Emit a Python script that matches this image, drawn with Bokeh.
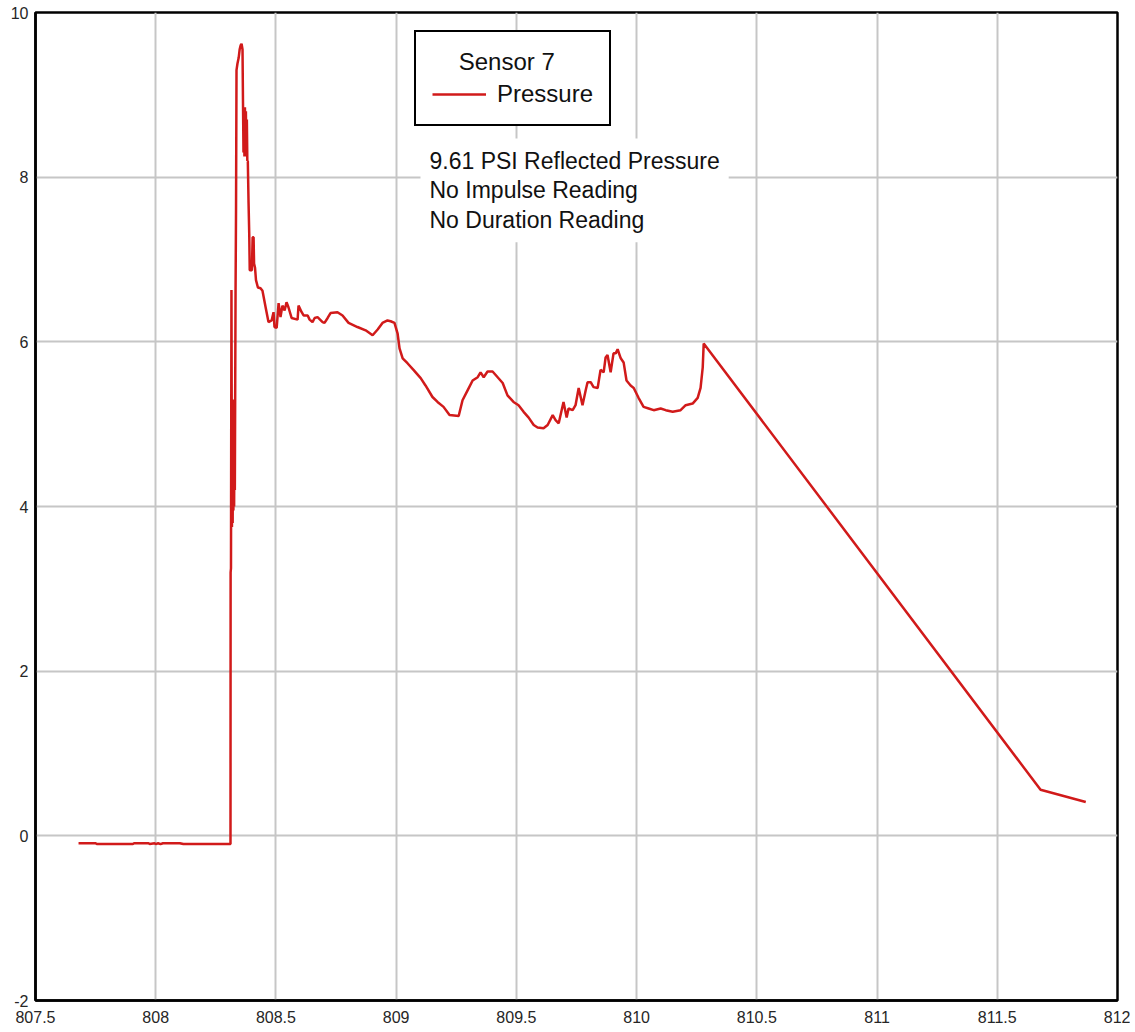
from bokeh.plotting import figure
from bokeh.models import Range1d, FixedTicker, Legend, LegendItem, Label
from bokeh.embed import file_html
from bokeh.resources import INLINE

# ---- data ----
time_s = [
    807.679, 807.750, 807.755, 807.905, 807.910, 807.970, 807.975, 807.995,
    808.000, 808.010, 808.020, 808.030, 808.060, 808.100, 808.115, 808.311,
    808.3115, 808.313, 808.315, 808.317, 808.3185, 808.320, 808.3215, 808.323,
    808.3245, 808.326, 808.3275, 808.329, 808.332, 808.334, 808.336, 808.340,
    808.345, 808.349, 808.353, 808.357, 808.361, 808.363, 808.365, 808.367,
    808.369, 808.371, 808.373, 808.375, 808.377, 808.379, 808.381, 808.383,
    808.386, 808.389, 808.391, 808.400, 808.403, 808.407, 808.409, 808.413,
    808.417, 808.425, 808.436, 808.444, 808.457, 808.469, 808.482, 808.490,
    808.494, 808.503, 808.511, 808.519, 808.527, 808.536, 808.544, 808.552,
    808.565, 808.590, 808.594, 808.607, 808.615, 808.632, 808.640, 808.652,
    808.661, 808.673, 808.694, 808.702, 808.715, 808.727, 808.756, 808.777,
    808.802, 808.839, 808.873, 808.902, 808.923, 808.943, 808.964, 808.977,
    808.993, 809.006, 809.014, 809.027, 809.047, 809.072, 809.102, 809.122,
    809.151, 809.172, 809.197, 809.222, 809.260, 809.276, 809.297, 809.318,
    809.339, 809.351, 809.364, 809.380, 809.401, 809.422, 809.443, 809.463,
    809.488, 809.509, 809.530, 809.551, 809.572, 809.588, 809.613, 809.630,
    809.651, 809.663, 809.676, 809.696, 809.709, 809.717, 809.734, 809.746,
    809.759, 809.775, 809.788, 809.796, 809.809, 809.821, 809.838, 809.850,
    809.863, 809.871, 809.879, 809.892, 809.904, 809.913, 809.921, 809.934,
    809.946, 809.958, 809.975, 809.988, 810.008, 810.029, 810.050, 810.071,
    810.100, 810.121, 810.150, 810.183, 810.204, 810.233, 810.254, 810.266,
    810.275, 810.279, 811.680, 811.868,
]
pressure_psi = [
    -0.09, -0.09, -0.10, -0.10, -0.09, -0.09, -0.10, -0.09,
    -0.10, -0.09, -0.10, -0.09, -0.09, -0.09, -0.10, -0.10,
    3.20, 3.25, 6.63, 3.75, 5.25, 3.80, 5.10, 3.95,
    5.30, 4.00, 5.00, 4.20, 6.60, 7.60, 9.30, 9.38,
    9.45, 9.55, 9.60, 9.62, 9.55, 8.90, 8.30, 8.85,
    8.25, 8.85, 8.30, 8.80, 8.25, 8.70, 8.20, 8.20,
    7.70, 7.30, 6.87, 6.87, 7.27, 7.27, 6.95, 6.90,
    6.75, 6.66, 6.65, 6.62, 6.42, 6.24, 6.26, 6.36,
    6.18, 6.17, 6.47, 6.30, 6.44, 6.38, 6.48, 6.42,
    6.29, 6.27, 6.44, 6.36, 6.32, 6.32, 6.27, 6.24,
    6.29, 6.30, 6.24, 6.23, 6.29, 6.35, 6.36, 6.32,
    6.23, 6.18, 6.14, 6.08, 6.15, 6.23, 6.26, 6.25,
    6.23, 6.10, 5.92, 5.80, 5.74, 5.66, 5.56, 5.47,
    5.33, 5.27, 5.21, 5.11, 5.10, 5.29, 5.41, 5.53,
    5.57, 5.63, 5.57, 5.64, 5.64, 5.57, 5.50, 5.35,
    5.27, 5.23, 5.15, 5.08, 4.99, 4.96, 4.95, 4.99,
    5.11, 5.05, 5.01, 5.27, 5.08, 5.19, 5.17, 5.23,
    5.44, 5.23, 5.41, 5.51, 5.51, 5.45, 5.44, 5.66,
    5.63, 5.81, 5.84, 5.63, 5.86, 5.86, 5.91, 5.80,
    5.75, 5.53, 5.47, 5.44, 5.32, 5.21, 5.19, 5.17,
    5.19, 5.17, 5.15, 5.17, 5.23, 5.25, 5.32, 5.44,
    5.69, 5.98, 0.56, 0.41,
]

x_ticks = [807.5, 808.0, 808.5, 809.0, 809.5, 810.0, 810.5, 811.0, 811.5, 812.0]
x_tick_labels = ["807.5", "808", "808.5", "809", "809.5", "810", "810.5", "811", "811.5", "812"]
y_ticks = [-2, 0, 2, 4, 6, 8, 10]
y_tick_labels = ["-2", "0", "2", "4", "6", "8", "10"]

series_name = "Pressure"
legend_title = "Sensor 7"
note_lines = ["9.61 PSI Reflected Pressure", "No Impulse Reading", "No Duration Reading"]

LINE_COLOR = "#d11a1a"
FONT = "Liberation Sans"

p = figure(width=1130, height=1028, output_backend="svg", toolbar_location=None,
           x_range=Range1d(807.5, 812.0), y_range=Range1d(-2.0, 10.0),
           min_border_left=35, min_border_right=13, min_border_top=12, min_border_bottom=28,
           background_fill_color="white", border_fill_color="white")

p.outline_line_color = "black"
p.outline_line_width = 2.5
p.outline_line_alpha = 1.0

for ax, ticks, labels in ((p.xaxis[0], x_ticks, x_tick_labels), (p.yaxis[0], y_ticks, y_tick_labels)):
    ax.ticker = FixedTicker(ticks=ticks)
    ax.major_label_overrides = {t: l for t, l in zip(ticks, labels)}
    ax.major_tick_out = 0
    ax.major_tick_in = 0
    ax.minor_tick_out = 0
    ax.minor_tick_in = 0
    ax.axis_line_color = "black"
    ax.axis_line_width = 2.5
    ax.major_label_text_font = FONT
    ax.major_label_text_font_size = "16px"
    ax.major_label_text_color = "#262626"
p.xaxis.major_label_standoff = 10
p.yaxis.major_label_standoff = 7

p.grid.grid_line_color = "#c6c6c6"
p.grid.grid_line_width = 2

r = p.line(time_s, pressure_psi, line_color=LINE_COLOR, line_width=2.5)

# the legend title is drawn left-aligned; no-break spaces centre it over the item
centred_title = "\u00a0" * 4 + legend_title

legend = Legend(items=[LegendItem(label=series_name, renderers=[r])],
                location=(379, 874), margin=0, padding=16,
                title=centred_title, title_text_font=FONT, title_text_font_size="24px",
                title_text_font_style="normal", title_text_color="#111111", title_standoff=4,
                label_text_font=FONT, label_text_font_size="24px", label_text_color="#111111",
                glyph_width=54, glyph_height=20, label_standoff=11, spacing=0,
                border_line_color="black", border_line_width=2, border_line_alpha=1.0,
                background_fill_color="white", background_fill_alpha=1.0)
p.add_layout(legend)

p.add_layout(Label(x=385, y=862, x_units="screen", y_units="screen", text="\n".join(note_lines),
                   text_align="left", text_baseline="top", text_line_height=1.15,
                   text_font=FONT, text_font_size="23px", text_color="#111111",
                   background_fill_color="white", background_fill_alpha=1.0, padding=9))

open("out.html", "w").write(file_html(p, INLINE))
